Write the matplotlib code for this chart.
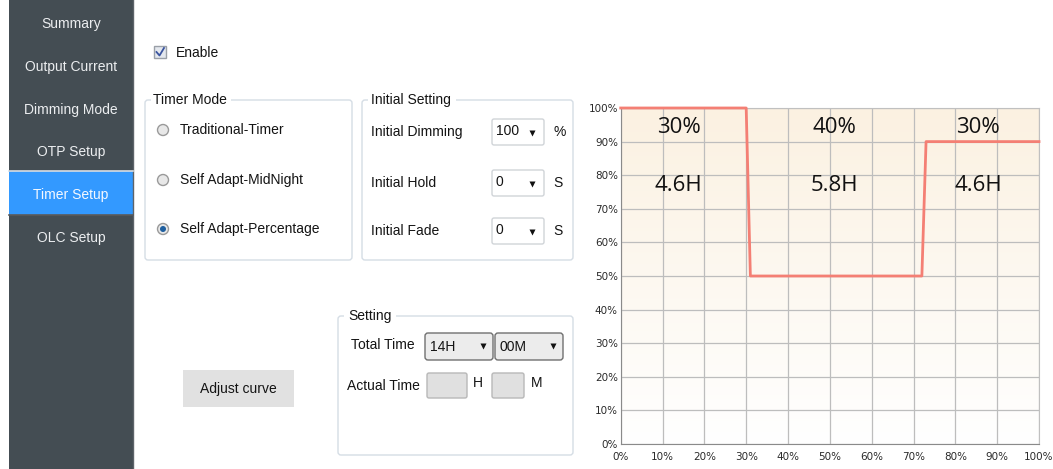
import matplotlib
matplotlib.use("Agg")
import matplotlib.pyplot as plt
import numpy as np
from matplotlib.patches import Rectangle, FancyBboxPatch, Circle

# --- data ---
menu_items = ["Summary", "Output Current", "Dimming Mode", "OTP Setup", "Timer Setup", "OLC Setup"]
active_menu = "Timer Setup"
timer_modes = ["Traditional-Timer", "Self Adapt-MidNight", "Self Adapt-Percentage"]
selected_mode = "Self Adapt-Percentage"
initial_fields = ["Initial Dimming", "Initial Hold", "Initial Fade"]
initial_values = ["100", "0", "0"]
initial_units = ["%", "S", "S"]
total_time = ["14H", "00M"]

# curve: time (% of night) vs dimming level (%)
time_pct = [0, 30, 31, 72, 73, 100]
level_pct = [100, 100, 50, 50, 90, 90]
segment_share = ["30%", "40%", "30%"]
segment_hours = ["4.6H", "5.8H", "4.6H"]
tick_values = list(range(0, 101, 10))

W, H = 1053, 469
GUI_FONT = ["Liberation Sans", "DejaVu Sans"]
TEXT_C = "#141414"

fig = plt.figure(figsize=(W / 100, H / 100), dpi=100)
bg = fig.add_axes([0, 0, 1, 1])
bg.set_xlim(0, W)
bg.set_ylim(H, 0)
bg.axis("off")


def txt(x, y, s, size=10, color=TEXT_C, ha="left"):
    bg.text(x, y, s, fontsize=size, color=color, ha=ha, va="center", family=GUI_FONT)


def rbox(x0, y0, x1, y1, fc="white", ec="#d5dde5", lw=1.0, pad=3):
    bg.add_patch(FancyBboxPatch((x0, y0), x1 - x0, y1 - y0,
                                boxstyle=f"round,pad=0,rounding_size={pad}",
                                fc=fc, ec=ec, lw=lw))


def arrow(x, y):
    bg.plot(x, y, marker="v", ms=5, color="#111111", mec="none")


# sidebar
bg.add_patch(Rectangle((9, 0), 124, H, fc="#444d53", ec="none"))
bg.plot([133, 133], [0, H], color="#5d6369", lw=1)
menu_y = [24, 67, 110, 152, 195, 238]
for name, y in zip(menu_items, menu_y):
    if name == active_menu:
        bg.add_patch(Rectangle((9, 171), 124, 44, fc="#3399ff", ec="none"))
        bg.plot([9, 133], [171, 171], color="#d8dde2", lw=1.2)
        bg.plot([9, 133], [215, 215], color="#5a5a5a", lw=1.2)
        txt(71, y, name, color="#f4f8ff", ha="center")
    else:
        txt(71, y, name, color="#eceef0", ha="center")

# enable checkbox
bg.add_patch(Rectangle((154, 46), 12, 12, fc="#e4e8ee", ec="#9aa0a8", lw=1))
bg.plot([156.5, 159.5, 164], [52, 55.5, 48], color="#3b55a0", lw=1.3)
txt(176, 53, "Enable")

# timer mode group
rbox(145, 100, 352, 260)
bg.add_patch(Rectangle((151, 94), 80, 12, fc="white", ec="none"))
txt(153, 100, "Timer Mode")
for mode, y in zip(timer_modes, [130, 180, 229]):
    bg.add_patch(Circle((163, y), 5.5, fc="#e8e8e8", ec="#9a9a9a", lw=1))
    if mode == selected_mode:
        bg.add_patch(Circle((163, y), 3, fc="#1f5f9f", ec="none"))
    txt(180, y, mode)

# initial setting group
rbox(362, 100, 573, 260)
bg.add_patch(Rectangle((368, 94), 88, 12, fc="white", ec="none"))
txt(371, 100, "Initial Setting")
for name, val, unit, y in zip(initial_fields, initial_values, initial_units, [132, 183, 231]):
    txt(371, y, name)
    rbox(492, y - 13, 544, y + 13, ec="#d0d4d8", pad=2)
    txt(496, y - 1, val)
    arrow(532, y + 1)
    txt(553, y, unit)

# adjust curve button
bg.add_patch(Rectangle((183, 370), 111, 37, fc="#e1e1e1", ec="none"))
txt(238, 389, "Adjust curve", ha="center")

# setting group
rbox(338, 316, 573, 455)
bg.add_patch(Rectangle((344, 310), 52, 12, fc="white", ec="none"))
txt(348, 316, "Setting")
txt(351, 345, "Total Time")
for (x0, x1), val in zip([(425, 493), (495, 563)], total_time):
    rbox(x0, 333, x1, 360, fc="#ececec", ec="#707070", pad=3)
    txt(x0 + 5, 347, val)
    arrow(x1 - 10, 346)
txt(347, 386, "Actual Time")
for (x0, x1), unit, ux in zip([(427, 467), (492, 524)], ["H", "M"], [473, 531]):
    rbox(x0, 373, x1, 398, fc="#e0e0e0", ec="#b8b8b8", pad=2)
    txt(ux, 383, unit)

# chart
x0, x1, y_top, y_bot = 620.7, 1039, 108, 444
ax = fig.add_axes([x0 / W, (H - y_bot) / H, (x1 - x0) / W, (y_bot - y_top) / H])
cmap = matplotlib.colors.LinearSegmentedColormap.from_list("cream", ["#ffffff", "#fbf1e1"])
ax.imshow(np.linspace(1, 0, 256).reshape(-1, 1), extent=[0, 100, 0, 100],
          aspect="auto", cmap=cmap, zorder=0)
ax.set_xlim(0, 100)
ax.set_ylim(0, 100)
ax.set_xticks(tick_values)
ax.set_yticks(tick_values)
ax.set_xticklabels([f"{v}%" for v in tick_values])
ax.set_yticklabels([f"{v}%" for v in tick_values])
ax.tick_params(length=0, labelsize=7.5, labelcolor="#2a2a2a")
ax.tick_params(axis="x", pad=6)
ax.tick_params(axis="y", pad=2)
ax.grid(True, color="#bdbdbd", lw=0.9, zorder=1)
for side in ["left", "bottom"]:
    ax.spines[side].set_color("#8a8a8a")
for side in ["top", "right"]:
    ax.spines[side].set_color("#c0c0c0")
ax.plot(time_pct, level_pct, color="#f47f74", lw=2, zorder=3, clip_on=False)

label_x = [13.9, 51.2, 85.5]
for lx, share, hrs in zip(label_x, segment_share, segment_hours):
    ax.text(lx, 94.3, share, fontsize=16, ha="center", va="center",
            family=["Open Sans", "DejaVu Sans"], color="#111111", zorder=4)
    ax.text(lx, 76.8, hrs, fontsize=16, ha="center", va="center",
            family=["Open Sans", "DejaVu Sans"], color="#111111", zorder=4)

fig.savefig("out.png", dpi=100)
